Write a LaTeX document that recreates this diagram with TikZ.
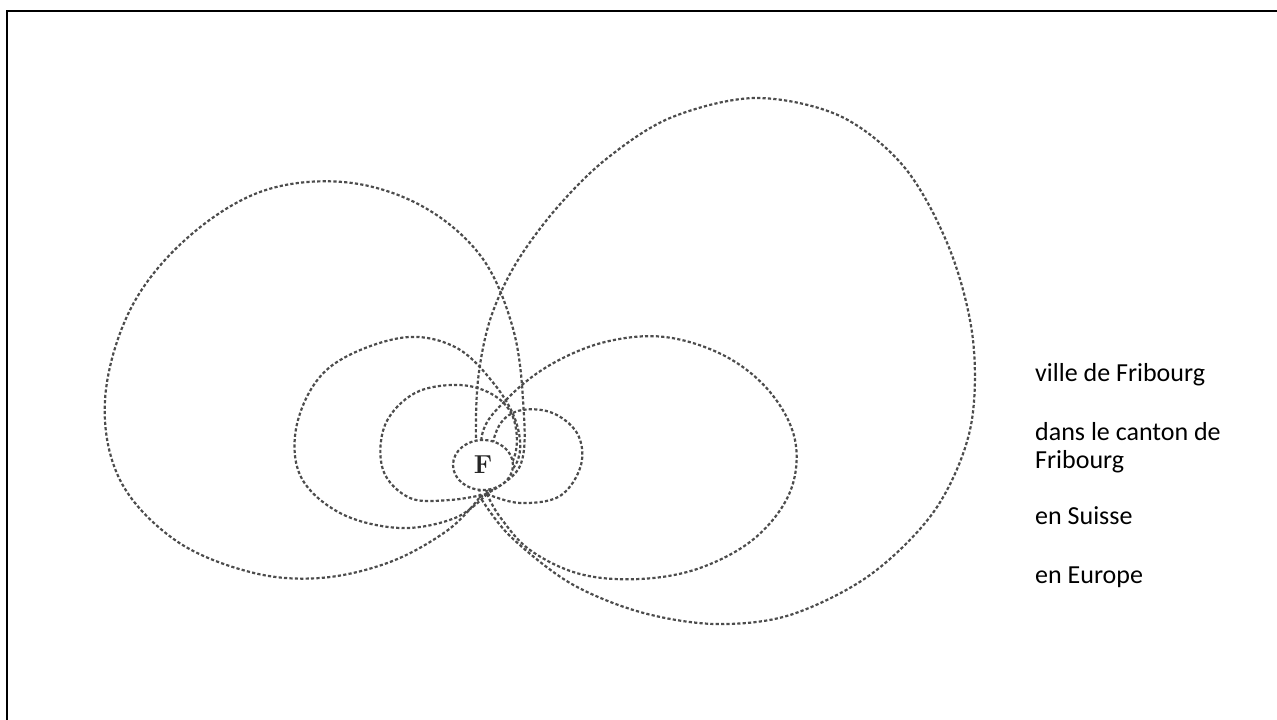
\documentclass[tikz,border=0pt]{standalone}
\usepackage{fontspec}
\newfontfamily\labelfont{Carlito}
\usetikzlibrary{shapes.geometric}

\begin{document}
\begin{tikzpicture}[
    x=1pt, y=-1pt,
    every node/.style={font=\labelfont\fontsize{26}{28}\selectfont},
    zone/.style={black!70, line width=2.2pt, dash pattern=on 3.2pt off 2.2pt, line join=round},
    legend/.style={anchor=base west, inner sep=0pt},
  ]
  \useasboundingbox (0,0) rectangle (1277,720);

  % cadre
  \draw[line width=2.8pt] (7,720) -- (7,11) -- (1277,11);

  % Europe
  \draw[zone] plot[smooth, tension=0.6] coordinates {(480,497) (520,466) (523,400)
    (512,325) (480,255) (420,205) (343,182) (260,192) (185,240) (130,310) (105,400)
    (120,480) (175,540) (250,572) (320,578) (390,562) (448,530) (480,497)};
  \draw[zone] plot[smooth, tension=0.55] coordinates {(480,497) (476,445) (478,380)
    (490,320) (515,265) (555,210) (605,160) (670,118) (755,98) (840,116) (905,168)
    (950,250) (973,340) (970,430) (935,510) (870,575) (790,615) (715,624) (640,612)
    (570,583) (510,536) (480,497)};

  % Suisse
  \draw[zone] plot[smooth, tension=0.6] coordinates {(487,494) (455,518) (400,528)
    (340,513) (300,475) (298,420) (330,367) (400,338) (455,347) (495,385) (517,425)
    (517,462) (487,494)};
  \draw[zone] plot[smooth, tension=0.6] coordinates {(487,494) (500,517) (530,550)
    (580,574) (640,579) (700,568) (755,538) (790,492) (795,440) (770,392) (725,356)
    (665,337) (605,342) (550,365) (508,398) (482,435) (487,494)};

  % canton
  \draw[zone] plot[smooth, tension=0.6] coordinates {(487,494) (450,500) (410,498)
    (383,470) (385,425) (415,393) (460,385) (495,396) (514,420) (514,458) (487,494)};
  \draw[zone] plot[smooth, tension=0.6] coordinates {(487,494) (520,503) (560,496)
    (581,465) (577,433) (550,412) (515,412) (495,435) (487,494)};

  % ville
  \node[zone, draw, ellipse, fill=white, text=black!85, minimum width=60pt,
        minimum height=50pt, inner sep=0pt,
        font=\rmfamily\bfseries\fontsize{26}{26}\selectfont] (ville) at (483,465) {F};

  \node[legend] (txt-ville)   at (1035,381) {ville de Fribourg};
  \node[legend] (txt-canton)  at (1035,440) {dans le canton de};
  \node[legend] (txt-canton2) at (1035,468) {Fribourg};
  \node[legend] (txt-suisse)  at (1035,524) {en Suisse};
  \node[legend] (txt-europe)  at (1035,583) {en Europe};
\end{tikzpicture}
\end{document}
